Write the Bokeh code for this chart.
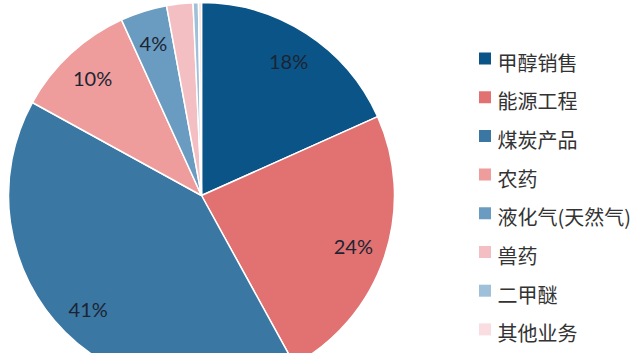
import math
from bokeh.plotting import figure
from bokeh.models import ColumnDataSource, Range1d
from bokeh.core.properties import value
from bokeh.embed import file_html
from bokeh.resources import INLINE

categories = ["甲醇销售", "能源工程", "煤炭产品", "农药", "液化气(天然气)", "兽药", "二甲醚", "其他业务"]
shares = [18.3, 23.7, 41.0, 10.2, 3.9, 2.2, 0.45, 0.25]
labels = ["18%", "24%", "41%", "10%", "4%", "", "", ""]
colors = ["#0b5487", "#e27271", "#3a77a3", "#ee9c9c", "#6a9cc2", "#f4bfc2", "#9fc0d9", "#f9dde0"]

W, H = 640, 353
p = figure(width=W, height=H, output_backend="svg", toolbar_location=None,
           x_range=Range1d(0, W), y_range=Range1d(0, H), min_border=0)
p.axis.visible = False
p.grid.visible = False
p.outline_line_color = None
p.background_fill_color = "white"
p.border_fill_color = "white"

cx, cy, r = 201, H - 195, 193
total = sum(shares)
starts, ends, lx, ly = [], [], [], []
acc = 0.0
for s in shares:
    a0 = math.pi / 2 - 2 * math.pi * acc / total
    acc += s
    a1 = math.pi / 2 - 2 * math.pi * acc / total
    starts.append(a0)
    ends.append(a1)
    mid = (a0 + a1) / 2
    lx.append(cx + 0.83 * r * math.cos(mid))
    ly.append(cy + 0.83 * r * math.sin(mid))

src = ColumnDataSource(dict(start=starts, end=ends, color=colors, lx=lx, ly=ly, label=labels))
p.wedge(x=cx, y=cy, radius=r, start_angle="start", end_angle="end", direction="clock",
        fill_color="color", line_color="white", line_width=1.5, source=src)
p.text(x="lx", y="ly", text="label", source=src, text_align="center", text_baseline="middle",
       text_font=value("Lato"), text_font_size="20px", text_color="#1c2433")

# legend
n = len(categories)
ys = [H - (58 + i * 38.7) for i in range(n)]
lsrc = ColumnDataSource(dict(x=[484.5] * n, y=ys, ty=[y - 3.5 for y in ys], color=colors,
                             tx=[497] * n, name=categories))
p.rect(x="x", y="y", width=12, height=12, fill_color="color", line_color=None, source=lsrc)
p.text(x="tx", y="ty", text="name", source=lsrc, text_align="left", text_baseline="middle",
       text_font=value("Noto Sans CJK SC"), text_font_size="20px", text_color="#333333")

open("out.html", "w").write(file_html(p, INLINE))
